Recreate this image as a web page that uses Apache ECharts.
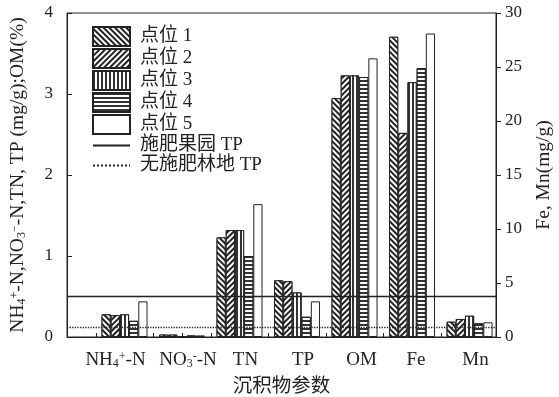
<!DOCTYPE html>
<html><head><meta charset="utf-8">
<script src="https://cdn.jsdelivr.net/npm/echarts@6/dist/echarts.min.js"></script>
<style>html,body{margin:0;padding:0;background:#fff}#c{width:559px;height:397px}</style>
</head><body><div id="c"></div>
<script>
// ---- data ----
const categories = ['NH{s|4}{p|+}-N', 'NO{s|3}{p|-}-N', 'TN', 'TP', 'OM', 'Fe', 'Mn'];
const leftCount = 5; // NH4+-N, NO3--N, TN, TP, OM on left axis; Fe, Mn on right axis
const siteNames = ['点位 1', '点位 2', '点位 3', '点位 4', '点位 5'];
const site1Left = [0.28, 0.03, 1.23, 0.70, 2.95];
const site2Left = [0.27, 0.03, 1.32, 0.69, 3.23];
const site3Left = [0.28, 0.01, 1.32, 0.55, 3.23];
const site4Left = [0.20, 0.02, 1.00, 0.25, 3.21];
const site5Left = [0.44, 0.02, 1.64, 0.44, 3.44];
const site1Right = [27.8, 1.42];
const site2Right = [18.9, 1.67];
const site3Right = [23.6, 1.97];
const site4Right = [24.9, 1.27];
const site5Right = [28.1, 1.36];
const tpOrchardName = '施肥果园 TP';
const tpForestName = '无施肥林地 TP';
const tpOrchard = 0.5;
const tpForest = 0.12;
const leftTicks = [0, 4, 1];   // min, max, interval
const rightTicks = [0, 30, 5];

// ---- styles ----
const SERIF = "'Liberation Serif','Noto Sans CJK SC',serif";
const INK = '#222';
const labelShift = [-9, 6, 6, 6, 7, 4, 6]; // horizontal nudge (px) of category labels
const decals = [
  {symbol: 'rect', dashArrayX: [1, 0], dashArrayY: [1.3, 1.9], rotation: Math.PI / 4, color: '#222', backgroundColor: '#fff'},
  {symbol: 'rect', dashArrayX: [1, 0], dashArrayY: [1.3, 1.9], rotation: -Math.PI / 4, color: '#222', backgroundColor: '#fff'},
  {symbol: 'rect', dashArrayX: [1.1, 1.4], dashArrayY: [1, 0], color: '#333', backgroundColor: '#fff'},
  {symbol: 'rect', dashArrayX: [1, 0], dashArrayY: [1.2, 1.6], color: '#333', backgroundColor: '#fff'},
  null
];
const leftData = [site1Left, site2Left, site3Left, site4Left, site5Left];
const rightData = [site1Right, site2Right, site3Right, site4Right, site5Right];
const richSub = {
  s: {fontSize: 12, fontFamily: SERIF, color: INK, verticalAlign: 'bottom', lineHeight: 12},
  p: {fontSize: 12, fontFamily: SERIF, color: INK, verticalAlign: 'top', lineHeight: 12}
};
const richX = Object.assign({}, richSub);
labelShift.forEach((s, i) => { richX['g' + i] = {width: Math.abs(s) * 2, fontSize: 19}; });

const series = [];
siteNames.forEach((name, k) => {
  const itemStyle = {color: '#fff', borderColor: INK, borderWidth: 1};
  if (decals[k]) itemStyle.decal = decals[k];
  series.push({
    name, type: 'bar', xAxisIndex: 0, yAxisIndex: 0, barWidth: 9.2, barGap: '0%',
    itemStyle, emphasis: {disabled: true},
    data: leftData[k].map((v, i) => [i, v])
  });
  series.push({
    name, type: 'bar', xAxisIndex: 1, yAxisIndex: 1, barWidth: 9.2, barGap: '0%',
    itemStyle, emphasis: {disabled: true},
    data: rightData[k].map((v, i) => [leftCount + i, v])
  });
});
[[tpOrchardName, tpOrchard, 'solid'], [tpForestName, tpForest, 'dotted']].forEach(([name, val, type]) => {
  series.push({
    name, type: 'line', xAxisIndex: 0, yAxisIndex: 0, data: [], symbol: 'none', showSymbol: false, z: 5,
    lineStyle: {color: INK, width: 1.3, type},
    itemStyle: {color: INK},
    markLine: {silent: true, symbol: ['none', 'none'], label: {show: false},
      lineStyle: {color: INK, width: 1.3, type}, emphasis: {disabled: true},
      data: [{yAxis: val}]}
  });
});

const xRange = {min: -1, max: 6.46};
const baseX = {type: 'value', min: xRange.min, max: xRange.max, interval: 1, position: 'bottom',
  splitLine: {show: false}, axisLine: {show: false, onZero: false}, axisTick: {show: false}, axisLabel: {show: false}};

const legendData = siteNames.map(n => ({name: n, icon: 'rect'})).concat(
  [tpOrchardName, tpForestName].map(n => ({name: n, itemStyle: {color: 'transparent', borderWidth: 0, opacity: 0}})));

function catLabel(v) {
  const i = Math.round(v);
  if (Math.abs(v - i) > 1e-6 || i < 0 || i >= categories.length) return '';
  const s = labelShift[i];
  return s >= 0 ? '{g' + i + '| }' + categories[i] : categories[i] + '{g' + i + '| }';
}

const chart = echarts.init(document.getElementById('c'), null, {renderer: 'canvas'});
chart.setOption({
  animation: false,
  backgroundColor: '#fff',
  grid: {left: 67, right: 63, top: 13, bottom: 60, show: true, borderColor: INK, borderWidth: 1,
    backgroundColor: 'transparent', containLabel: false, outerBoundsMode: 'none'},
  legend: {
    orient: 'vertical', left: 92, top: 26, padding: 0, itemWidth: 37, itemHeight: 19, itemGap: 1,
    selectedMode: false,
    data: legendData,
    textStyle: {fontFamily: SERIF, fontSize: 19, lineHeight: 19, color: INK, padding: [0, 0, 0, 5]}
  },
  xAxis: [
    Object.assign({}, baseX, {
      interval: 0.5,
      axisLine: {show: true, onZero: false, lineStyle: {color: INK, width: 1}},
      axisTick: {show: true, inside: true, length: 4, lineStyle: {color: INK}},
      axisLabel: {show: true, margin: 14, fontFamily: SERIF, fontSize: 19, color: INK, rich: richX,
        showMinLabel: false, showMaxLabel: false, hideOverlap: false, formatter: catLabel},
      name: '沉积物参数', nameLocation: 'middle', nameGap: 40,
      nameTextStyle: {fontFamily: SERIF, fontSize: 19.5, color: INK}
    }),
    Object.assign({}, baseX)
  ],
  yAxis: [
    {type: 'value', position: 'left', min: leftTicks[0], max: leftTicks[1], interval: leftTicks[2],
      splitLine: {show: false},
      axisLine: {show: true, onZero: false, lineStyle: {color: INK, width: 1}},
      axisTick: {show: true, inside: true, length: 5, lineStyle: {color: INK}},
      axisLabel: {margin: 14, fontFamily: SERIF, fontSize: 17, color: INK},
      name: 'NH{s|4}{p|+}-N,NO{s|3}{p|−}-N,TN, TP (mg/g);OM(%)',
      nameLocation: 'middle', nameRotate: 90, nameGap: 39,
      nameTextStyle: {fontFamily: SERIF, fontSize: 19.5, color: INK, rich: richSub}
    },
    {type: 'value', position: 'right', min: rightTicks[0], max: rightTicks[1], interval: rightTicks[2],
      splitLine: {show: false},
      axisLine: {show: true, onZero: false, lineStyle: {color: INK, width: 1}},
      axisTick: {show: true, inside: false, length: 5, lineStyle: {color: INK}},
      axisLabel: {margin: 9, fontFamily: SERIF, fontSize: 17, color: INK},
      name: 'Fe, Mn(mg/g)', nameLocation: 'middle', nameRotate: 90, nameGap: 38,
      nameTextStyle: {fontFamily: SERIF, fontSize: 19.5, color: INK}
    }
  ],
  series
});
</script></body></html>
